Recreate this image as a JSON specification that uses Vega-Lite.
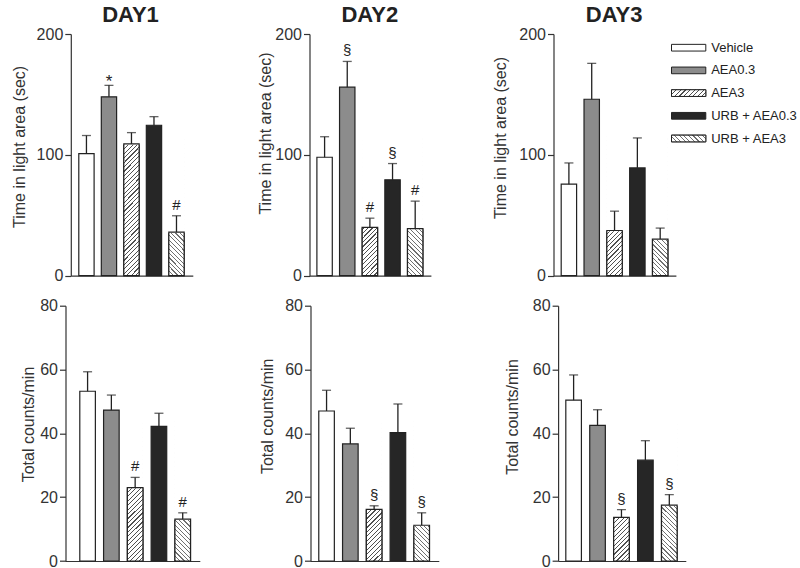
{
"$schema":"https://vega.github.io/schema/vega-lite/v6.json",
"background":"white",
"padding":{"left":10.5,"top":3,"right":0,"bottom":0},
"data":{"values":[
{"m":"t","d":"DAY1","g":"Vehicle","v":101,"hi":116,"s":""},
{"m":"t","d":"DAY1","g":"AEA0.3","v":148,"hi":157.5,"s":"*"},
{"m":"t","d":"DAY1","g":"AEA3","v":109,"hi":118.4,"s":""},
{"m":"t","d":"DAY1","g":"URB + AEA0.3","v":124.5,"hi":131.6,"s":""},
{"m":"t","d":"DAY1","g":"URB + AEA3","v":36,"hi":49.6,"s":"#"},
{"m":"t","d":"DAY2","g":"Vehicle","v":98,"hi":115,"s":""},
{"m":"t","d":"DAY2","g":"AEA0.3","v":156,"hi":177.3,"s":"§"},
{"m":"t","d":"DAY2","g":"AEA3","v":40,"hi":47.6,"s":"#"},
{"m":"t","d":"DAY2","g":"URB + AEA0.3","v":79.3,"hi":92.8,"s":"§"},
{"m":"t","d":"DAY2","g":"URB + AEA3","v":39,"hi":61.7,"s":"#"},
{"m":"t","d":"DAY3","g":"Vehicle","v":75.7,"hi":93.3,"s":""},
{"m":"t","d":"DAY3","g":"AEA0.3","v":146,"hi":175.7,"s":""},
{"m":"t","d":"DAY3","g":"AEA3","v":37.4,"hi":53.4,"s":""},
{"m":"t","d":"DAY3","g":"URB + AEA0.3","v":89.2,"hi":114,"s":""},
{"m":"t","d":"DAY3","g":"URB + AEA3","v":30.3,"hi":39.4,"s":""},
{"m":"c","d":"DAY1","g":"Vehicle","v":53.2,"hi":59.3,"s":""},
{"m":"c","d":"DAY1","g":"AEA0.3","v":47.3,"hi":52,"s":""},
{"m":"c","d":"DAY1","g":"AEA3","v":23,"hi":26.2,"s":"#"},
{"m":"c","d":"DAY1","g":"URB + AEA0.3","v":42.2,"hi":46.3,"s":""},
{"m":"c","d":"DAY1","g":"URB + AEA3","v":13.1,"hi":15.1,"s":"#"},
{"m":"c","d":"DAY2","g":"Vehicle","v":47,"hi":53.5,"s":""},
{"m":"c","d":"DAY2","g":"AEA0.3","v":36.7,"hi":41.6,"s":""},
{"m":"c","d":"DAY2","g":"AEA3","v":16.2,"hi":17.3,"s":"§"},
{"m":"c","d":"DAY2","g":"URB + AEA0.3","v":40.2,"hi":49.2,"s":""},
{"m":"c","d":"DAY2","g":"URB + AEA3","v":11.2,"hi":15.1,"s":"§"},
{"m":"c","d":"DAY3","g":"Vehicle","v":50.4,"hi":58.3,"s":""},
{"m":"c","d":"DAY3","g":"AEA0.3","v":42.5,"hi":47.4,"s":""},
{"m":"c","d":"DAY3","g":"AEA3","v":13.7,"hi":16.1,"s":"§"},
{"m":"c","d":"DAY3","g":"URB + AEA0.3","v":31.6,"hi":37.7,"s":""},
{"m":"c","d":"DAY3","g":"URB + AEA3","v":17.5,"hi":20.8,"s":"§"}
]},
"columns":4,
"align":"each",
"bounds":"flush",
"spacing":{"row":29.7,"column":0},
"concat":[
{"width":244,"height":241.7,"title":{"text":"DAY1","dx":-57},
"transform":[{"filter":"datum.m==='t'&&datum.d==='DAY1'"}],
"encoding":{
"x":{"field":"g","type":"nominal","sort":null,"scale":{"domain":["Vehicle","AEA0.3","AEA3","URB + AEA0.3","URB + AEA3"],"range":[5.3,127.3],"paddingInner":0.32,"paddingOuter":0.37,"align":0.48},"axis":{"domain":true,"ticks":false,"labels":false,"title":null}},
"y":{"field":"v","type":"quantitative","stack":null,"scale":{"domain":[0,200],"nice":false},"axis":{"values":[0,100,200],"title":"Time in light area (sec)","offset":-5.3,"titleX":-46.7,"titleY":112.4,"titleBaseline":"alphabetic"}}},
"layer":[
{"mark":{"type":"bar","stroke":"#222","strokeWidth":1.2},"encoding":{"fill":{"field":"g","type":"nominal","scale":{"domain":["Vehicle","AEA0.3","AEA3","URB + AEA0.3","URB + AEA3"],"range":["#ffffff","#8c8c8c","#ffffff","#262626","#ffffff"]},"legend":null}}},
{"transform":[{"filter":"datum.g==='AEA3'"}],"mark":{"type":"bar","style":"hA"},"encoding":{"y":{"datum":0,"type":"quantitative"},"y2":{"datum":116}}},
{"transform":[{"filter":"datum.g==='URB + AEA3'"}],"mark":{"type":"bar","style":"hB"},"encoding":{"y":{"datum":0,"type":"quantitative"},"y2":{"datum":116}}},
{"transform":[{"filter":"datum.g==='AEA3'||datum.g==='URB + AEA3'"}],"mark":{"type":"bar","fill":"#fff","stroke":"#fff","strokeWidth":1.5},"encoding":{"y2":{"datum":116}}},
{"transform":[{"filter":"datum.g==='AEA3'||datum.g==='URB + AEA3'"}],"mark":{"type":"bar","fillOpacity":0,"stroke":"#222","strokeWidth":1.2}},
{"mark":{"type":"rule","color":"#222","strokeWidth":1.3},"encoding":{"y2":{"field":"hi"}}},
{"mark":{"type":"tick","color":"#222","thickness":1.3,"size":9},"encoding":{"y":{"field":"hi","type":"quantitative"}}},
{"transform":[{"filter":"datum.s!==''&&datum.s!=='*'"}],"mark":{"type":"text","fontSize":15,"dy":-6,"baseline":"alphabetic","color":"#222"},"encoding":{"y":{"field":"hi","type":"quantitative"},"text":{"field":"s"}}},
{"transform":[{"filter":"datum.s==='*'"}],"mark":{"type":"text","fontSize":17,"dy":2,"baseline":"alphabetic","color":"#222"},"encoding":{"y":{"field":"hi","type":"quantitative"},"text":{"field":"s"}}}
]},
{"width":244,"height":241.7,"title":{"text":"DAY2","dx":-61.7},
"transform":[{"filter":"datum.m==='t'&&datum.d==='DAY2'"}],
"encoding":{
"x":{"field":"g","type":"nominal","sort":null,"scale":{"domain":["Vehicle","AEA0.3","AEA3","URB + AEA0.3","URB + AEA3"],"range":[0,121.4],"paddingInner":0.32,"paddingOuter":0.34,"align":0.48},"axis":{"domain":true,"ticks":false,"labels":false,"title":null}},
"y":{"field":"v","type":"quantitative","stack":null,"scale":{"domain":[0,200],"nice":false},"axis":{"values":[0,100,200],"title":"Time in light area (sec)","titleX":-39.5,"titleY":99,"titleBaseline":"alphabetic"}}},
"layer":[
{"mark":{"type":"bar","stroke":"#222","strokeWidth":1.2},"encoding":{"fill":{"field":"g","type":"nominal","scale":{"domain":["Vehicle","AEA0.3","AEA3","URB + AEA0.3","URB + AEA3"],"range":["#ffffff","#8c8c8c","#ffffff","#262626","#ffffff"]},"legend":null}}},
{"transform":[{"filter":"datum.g==='AEA3'"}],"mark":{"type":"bar","style":"hA"},"encoding":{"y":{"datum":0,"type":"quantitative"},"y2":{"datum":116}}},
{"transform":[{"filter":"datum.g==='URB + AEA3'"}],"mark":{"type":"bar","style":"hB"},"encoding":{"y":{"datum":0,"type":"quantitative"},"y2":{"datum":116}}},
{"transform":[{"filter":"datum.g==='AEA3'||datum.g==='URB + AEA3'"}],"mark":{"type":"bar","fill":"#fff","stroke":"#fff","strokeWidth":1.5},"encoding":{"y2":{"datum":116}}},
{"transform":[{"filter":"datum.g==='AEA3'||datum.g==='URB + AEA3'"}],"mark":{"type":"bar","fillOpacity":0,"stroke":"#222","strokeWidth":1.2}},
{"mark":{"type":"rule","color":"#222","strokeWidth":1.3},"encoding":{"y2":{"field":"hi"}}},
{"mark":{"type":"tick","color":"#222","thickness":1.3,"size":9},"encoding":{"y":{"field":"hi","type":"quantitative"}}},
{"transform":[{"filter":"datum.s!==''"}],"mark":{"type":"text","fontSize":15,"dy":-6,"baseline":"alphabetic","color":"#222"},"encoding":{"y":{"field":"hi","type":"quantitative"},"text":{"field":"s"}}}
]},
{"width":117.3,"height":241.7,"title":{"text":"DAY3","dx":2},
"transform":[{"filter":"datum.m==='t'&&datum.d==='DAY3'"}],
"encoding":{
"x":{"field":"g","type":"nominal","sort":null,"scale":{"domain":["Vehicle","AEA0.3","AEA3","URB + AEA0.3","URB + AEA3"],"range":[0,122.4],"paddingInner":0.325,"paddingOuter":0.344,"align":0.49},"axis":{"domain":true,"ticks":false,"labels":false,"title":null}},
"y":{"field":"v","type":"quantitative","stack":null,"scale":{"domain":[0,200],"nice":false},"axis":{"values":[0,100,200],"title":"Time in light area (sec)","titleX":-47.8,"titleY":103.5,"titleBaseline":"alphabetic"}}},
"layer":[
{"mark":{"type":"bar","stroke":"#222","strokeWidth":1.2},"encoding":{"fill":{"field":"g","type":"nominal","scale":{"domain":["Vehicle","AEA0.3","AEA3","URB + AEA0.3","URB + AEA3"],"range":["#ffffff","#8c8c8c","#ffffff","#262626","#ffffff"]},"legend":null}}},
{"transform":[{"filter":"datum.g==='AEA3'"}],"mark":{"type":"bar","style":"hA"},"encoding":{"y":{"datum":0,"type":"quantitative"},"y2":{"datum":116}}},
{"transform":[{"filter":"datum.g==='URB + AEA3'"}],"mark":{"type":"bar","style":"hB"},"encoding":{"y":{"datum":0,"type":"quantitative"},"y2":{"datum":116}}},
{"transform":[{"filter":"datum.g==='AEA3'||datum.g==='URB + AEA3'"}],"mark":{"type":"bar","fill":"#fff","stroke":"#fff","strokeWidth":1.5},"encoding":{"y2":{"datum":116}}},
{"transform":[{"filter":"datum.g==='AEA3'||datum.g==='URB + AEA3'"}],"mark":{"type":"bar","fillOpacity":0,"stroke":"#222","strokeWidth":1.2}},
{"mark":{"type":"rule","color":"#222","strokeWidth":1.3},"encoding":{"y2":{"field":"hi"}}},
{"mark":{"type":"tick","color":"#222","thickness":1.3,"size":9},"encoding":{"y":{"field":"hi","type":"quantitative"}}}
]},
{"width":120,"height":118.2,
"transform":[{"filter":"datum.m==='t'&&datum.d==='DAY1'"}],
"encoding":{
"y":{"field":"g","type":"nominal","sort":null,"scale":{"domain":["Vehicle","AEA0.3","AEA3","URB + AEA0.3","URB + AEA3"],"paddingInner":0.705,"paddingOuter":0.456},"axis":null},
"x":{"datum":0,"type":"quantitative","scale":{"domain":[0,120],"nice":false},"axis":null}},
"layer":[
{"mark":{"type":"rect","stroke":"#222","strokeWidth":1},"encoding":{"x2":{"datum":34.3},"fill":{"field":"g","type":"nominal","scale":{"domain":["Vehicle","AEA0.3","AEA3","URB + AEA0.3","URB + AEA3"],"range":["#ffffff","#8c8c8c","#ffffff","#262626","#ffffff"]},"legend":null}}},
{"transform":[{"filter":"datum.g==='AEA3'"}],"mark":{"type":"rect","style":"lA","stroke":"#222","strokeWidth":1},"encoding":{"x2":{"datum":34.3}}},
{"transform":[{"filter":"datum.g==='URB + AEA3'"}],"mark":{"type":"rect","style":"lB","stroke":"#222","strokeWidth":1},"encoding":{"x2":{"datum":34.3}}},
{"mark":{"type":"text","align":"left","baseline":"middle","fontSize":13,"color":"#222"},"encoding":{"x":{"datum":39.7,"type":"quantitative"},"text":{"field":"g"}}}
]},
{"width":244,"height":255.3,
"transform":[{"filter":"datum.m==='c'&&datum.d==='DAY1'"}],
"encoding":{
"x":{"field":"g","type":"nominal","sort":null,"scale":{"domain":["Vehicle","AEA0.3","AEA3","URB + AEA0.3","URB + AEA3"],"range":[0,134.3],"paddingInner":0.345,"paddingOuter":0.496,"align":0.606},"axis":{"domain":true,"ticks":false,"labels":false,"title":null}},
"y":{"field":"v","type":"quantitative","stack":null,"scale":{"domain":[0,80],"nice":false},"axis":{"values":[0,20,40,60,80],"title":"Total counts/min","titleX":-32.5,"titleY":118.3,"titleBaseline":"alphabetic"}}},
"layer":[
{"mark":{"type":"bar","stroke":"#222","strokeWidth":1.2},"encoding":{"fill":{"field":"g","type":"nominal","scale":{"domain":["Vehicle","AEA0.3","AEA3","URB + AEA0.3","URB + AEA3"],"range":["#ffffff","#8c8c8c","#ffffff","#262626","#ffffff"]},"legend":null}}},
{"transform":[{"filter":"datum.g==='AEA3'"}],"mark":{"type":"bar","style":"hA"},"encoding":{"y":{"datum":0,"type":"quantitative"},"y2":{"datum":44}}},
{"transform":[{"filter":"datum.g==='URB + AEA3'"}],"mark":{"type":"bar","style":"hB"},"encoding":{"y":{"datum":0,"type":"quantitative"},"y2":{"datum":44}}},
{"transform":[{"filter":"datum.g==='AEA3'||datum.g==='URB + AEA3'"}],"mark":{"type":"bar","fill":"#fff","stroke":"#fff","strokeWidth":1.5},"encoding":{"y2":{"datum":44}}},
{"transform":[{"filter":"datum.g==='AEA3'||datum.g==='URB + AEA3'"}],"mark":{"type":"bar","fillOpacity":0,"stroke":"#222","strokeWidth":1.2}},
{"mark":{"type":"rule","color":"#222","strokeWidth":1.3},"encoding":{"y2":{"field":"hi"}}},
{"mark":{"type":"tick","color":"#222","thickness":1.3,"size":9},"encoding":{"y":{"field":"hi","type":"quantitative"}}},
{"transform":[{"filter":"datum.s!==''"}],"mark":{"type":"text","fontSize":15,"dy":-6,"baseline":"alphabetic","color":"#222"},"encoding":{"y":{"field":"hi","type":"quantitative"},"text":{"field":"s"}}}
]},
{"width":244,"height":255.3,
"transform":[{"filter":"datum.m==='c'&&datum.d==='DAY2'"}],
"encoding":{
"x":{"field":"g","type":"nominal","sort":null,"scale":{"domain":["Vehicle","AEA0.3","AEA3","URB + AEA0.3","URB + AEA3"],"range":[1,129.3],"paddingInner":0.345,"paddingOuter":0.37,"align":0.47},"axis":{"domain":true,"ticks":false,"labels":false,"title":null}},
"y":{"field":"v","type":"quantitative","stack":null,"scale":{"domain":[0,80],"nice":false},"axis":{"values":[0,20,40,60,80],"title":"Total counts/min","offset":-1,"titleX":-38.2,"titleY":110.1,"titleBaseline":"alphabetic"}}},
"layer":[
{"mark":{"type":"bar","stroke":"#222","strokeWidth":1.2},"encoding":{"fill":{"field":"g","type":"nominal","scale":{"domain":["Vehicle","AEA0.3","AEA3","URB + AEA0.3","URB + AEA3"],"range":["#ffffff","#8c8c8c","#ffffff","#262626","#ffffff"]},"legend":null}}},
{"transform":[{"filter":"datum.g==='AEA3'"}],"mark":{"type":"bar","style":"hA"},"encoding":{"y":{"datum":0,"type":"quantitative"},"y2":{"datum":44}}},
{"transform":[{"filter":"datum.g==='URB + AEA3'"}],"mark":{"type":"bar","style":"hB"},"encoding":{"y":{"datum":0,"type":"quantitative"},"y2":{"datum":44}}},
{"transform":[{"filter":"datum.g==='AEA3'||datum.g==='URB + AEA3'"}],"mark":{"type":"bar","fill":"#fff","stroke":"#fff","strokeWidth":1.5},"encoding":{"y2":{"datum":44}}},
{"transform":[{"filter":"datum.g==='AEA3'||datum.g==='URB + AEA3'"}],"mark":{"type":"bar","fillOpacity":0,"stroke":"#222","strokeWidth":1.2}},
{"mark":{"type":"rule","color":"#222","strokeWidth":1.3},"encoding":{"y2":{"field":"hi"}}},
{"mark":{"type":"tick","color":"#222","thickness":1.3,"size":9},"encoding":{"y":{"field":"hi","type":"quantitative"}}},
{"transform":[{"filter":"datum.s!==''"}],"mark":{"type":"text","fontSize":15,"dy":-6,"baseline":"alphabetic","color":"#222"},"encoding":{"y":{"field":"hi","type":"quantitative"},"text":{"field":"s"}}}
]},
{"width":117.3,"height":255.3,
"transform":[{"filter":"datum.m==='c'&&datum.d==='DAY3'"}],
"encoding":{
"x":{"field":"g","type":"nominal","sort":null,"scale":{"domain":["Vehicle","AEA0.3","AEA3","URB + AEA0.3","URB + AEA3"],"range":[4.6,132.3],"paddingInner":0.348,"paddingOuter":0.343,"align":0.47},"axis":{"domain":true,"ticks":false,"labels":false,"title":null}},
"y":{"field":"v","type":"quantitative","stack":null,"scale":{"domain":[0,80],"nice":false},"axis":{"values":[0,20,40,60,80],"title":"Total counts/min","offset":-4.6,"titleX":-40.3,"titleY":110.8,"titleBaseline":"alphabetic"}}},
"layer":[
{"mark":{"type":"bar","stroke":"#222","strokeWidth":1.2},"encoding":{"fill":{"field":"g","type":"nominal","scale":{"domain":["Vehicle","AEA0.3","AEA3","URB + AEA0.3","URB + AEA3"],"range":["#ffffff","#8c8c8c","#ffffff","#262626","#ffffff"]},"legend":null}}},
{"transform":[{"filter":"datum.g==='AEA3'"}],"mark":{"type":"bar","style":"hA"},"encoding":{"y":{"datum":0,"type":"quantitative"},"y2":{"datum":44}}},
{"transform":[{"filter":"datum.g==='URB + AEA3'"}],"mark":{"type":"bar","style":"hB"},"encoding":{"y":{"datum":0,"type":"quantitative"},"y2":{"datum":44}}},
{"transform":[{"filter":"datum.g==='AEA3'||datum.g==='URB + AEA3'"}],"mark":{"type":"bar","fill":"#fff","stroke":"#fff","strokeWidth":1.5},"encoding":{"y2":{"datum":44}}},
{"transform":[{"filter":"datum.g==='AEA3'||datum.g==='URB + AEA3'"}],"mark":{"type":"bar","fillOpacity":0,"stroke":"#222","strokeWidth":1.2}},
{"mark":{"type":"rule","color":"#222","strokeWidth":1.3},"encoding":{"y2":{"field":"hi"}}},
{"mark":{"type":"tick","color":"#222","thickness":1.3,"size":9},"encoding":{"y":{"field":"hi","type":"quantitative"}}},
{"transform":[{"filter":"datum.s!==''"}],"mark":{"type":"text","fontSize":15,"dy":-6,"baseline":"alphabetic","color":"#222"},"encoding":{"y":{"field":"hi","type":"quantitative"},"text":{"field":"s"}}}
]}
],
"config":{
"view":{"stroke":null},
"font":"Liberation Sans",
"axis":{"labelFont":"Liberation Sans","labelFontSize":16,"labelColor":"#333","titleFont":"Liberation Sans","titleFontSize":16,"titleFontWeight":"normal","titleColor":"#333","domainColor":"#333","tickColor":"#333","domainWidth":1.2,"tickWidth":1.2,"tickSize":6,"labelPadding":2,"grid":false},
"title":{"font":"Liberation Sans","fontSize":22,"fontWeight":"bold","color":"#222","frame":"group","anchor":"middle","dy":4.7},
"style":{
"hA":{"color":{"gradient":"linear","x1":0,"y1":0,"x2":0.1213,"y2":1.0972,"stops":[
{"offset":0,"color":"#fff"},{"offset":0,"color":"#505050"},{"offset":0.0075,"color":"#505050"},{"offset":0.0075,"color":"#fff"},
{"offset":0.0286,"color":"#fff"},{"offset":0.0286,"color":"#505050"},{"offset":0.0361,"color":"#505050"},{"offset":0.0361,"color":"#fff"},
{"offset":0.0571,"color":"#fff"},{"offset":0.0571,"color":"#505050"},{"offset":0.0646,"color":"#505050"},{"offset":0.0646,"color":"#fff"},
{"offset":0.0857,"color":"#fff"},{"offset":0.0857,"color":"#505050"},{"offset":0.0932,"color":"#505050"},{"offset":0.0932,"color":"#fff"},
{"offset":0.1143,"color":"#fff"},{"offset":0.1143,"color":"#505050"},{"offset":0.1218,"color":"#505050"},{"offset":0.1218,"color":"#fff"},
{"offset":0.1429,"color":"#fff"},{"offset":0.1429,"color":"#505050"},{"offset":0.1504,"color":"#505050"},{"offset":0.1504,"color":"#fff"},
{"offset":0.1714,"color":"#fff"},{"offset":0.1714,"color":"#505050"},{"offset":0.1789,"color":"#505050"},{"offset":0.1789,"color":"#fff"},
{"offset":0.2,"color":"#fff"},{"offset":0.2,"color":"#505050"},{"offset":0.2075,"color":"#505050"},{"offset":0.2075,"color":"#fff"},
{"offset":0.2286,"color":"#fff"},{"offset":0.2286,"color":"#505050"},{"offset":0.2361,"color":"#505050"},{"offset":0.2361,"color":"#fff"},
{"offset":0.2571,"color":"#fff"},{"offset":0.2571,"color":"#505050"},{"offset":0.2646,"color":"#505050"},{"offset":0.2646,"color":"#fff"},
{"offset":0.2857,"color":"#fff"},{"offset":0.2857,"color":"#505050"},{"offset":0.2932,"color":"#505050"},{"offset":0.2932,"color":"#fff"},
{"offset":0.3143,"color":"#fff"},{"offset":0.3143,"color":"#505050"},{"offset":0.3218,"color":"#505050"},{"offset":0.3218,"color":"#fff"},
{"offset":0.3429,"color":"#fff"},{"offset":0.3429,"color":"#505050"},{"offset":0.3504,"color":"#505050"},{"offset":0.3504,"color":"#fff"},
{"offset":0.3714,"color":"#fff"},{"offset":0.3714,"color":"#505050"},{"offset":0.3789,"color":"#505050"},{"offset":0.3789,"color":"#fff"},
{"offset":0.4,"color":"#fff"},{"offset":0.4,"color":"#505050"},{"offset":0.4075,"color":"#505050"},{"offset":0.4075,"color":"#fff"},
{"offset":0.4286,"color":"#fff"},{"offset":0.4286,"color":"#505050"},{"offset":0.4361,"color":"#505050"},{"offset":0.4361,"color":"#fff"},
{"offset":0.4571,"color":"#fff"},{"offset":0.4571,"color":"#505050"},{"offset":0.4646,"color":"#505050"},{"offset":0.4646,"color":"#fff"},
{"offset":0.4857,"color":"#fff"},{"offset":0.4857,"color":"#505050"},{"offset":0.4932,"color":"#505050"},{"offset":0.4932,"color":"#fff"},
{"offset":0.5143,"color":"#fff"},{"offset":0.5143,"color":"#505050"},{"offset":0.5218,"color":"#505050"},{"offset":0.5218,"color":"#fff"},
{"offset":0.5429,"color":"#fff"},{"offset":0.5429,"color":"#505050"},{"offset":0.5504,"color":"#505050"},{"offset":0.5504,"color":"#fff"},
{"offset":0.5714,"color":"#fff"},{"offset":0.5714,"color":"#505050"},{"offset":0.5789,"color":"#505050"},{"offset":0.5789,"color":"#fff"},
{"offset":0.6,"color":"#fff"},{"offset":0.6,"color":"#505050"},{"offset":0.6075,"color":"#505050"},{"offset":0.6075,"color":"#fff"},
{"offset":0.6286,"color":"#fff"},{"offset":0.6286,"color":"#505050"},{"offset":0.6361,"color":"#505050"},{"offset":0.6361,"color":"#fff"},
{"offset":0.6571,"color":"#fff"},{"offset":0.6571,"color":"#505050"},{"offset":0.6646,"color":"#505050"},{"offset":0.6646,"color":"#fff"},
{"offset":0.6857,"color":"#fff"},{"offset":0.6857,"color":"#505050"},{"offset":0.6932,"color":"#505050"},{"offset":0.6932,"color":"#fff"},
{"offset":0.7143,"color":"#fff"},{"offset":0.7143,"color":"#505050"},{"offset":0.7218,"color":"#505050"},{"offset":0.7218,"color":"#fff"},
{"offset":0.7429,"color":"#fff"},{"offset":0.7429,"color":"#505050"},{"offset":0.7504,"color":"#505050"},{"offset":0.7504,"color":"#fff"},
{"offset":0.7714,"color":"#fff"},{"offset":0.7714,"color":"#505050"},{"offset":0.7789,"color":"#505050"},{"offset":0.7789,"color":"#fff"},
{"offset":0.8,"color":"#fff"},{"offset":0.8,"color":"#505050"},{"offset":0.8075,"color":"#505050"},{"offset":0.8075,"color":"#fff"},
{"offset":0.8286,"color":"#fff"},{"offset":0.8286,"color":"#505050"},{"offset":0.8361,"color":"#505050"},{"offset":0.8361,"color":"#fff"},
{"offset":0.8571,"color":"#fff"},{"offset":0.8571,"color":"#505050"},{"offset":0.8646,"color":"#505050"},{"offset":0.8646,"color":"#fff"},
{"offset":0.8857,"color":"#fff"},{"offset":0.8857,"color":"#505050"},{"offset":0.8932,"color":"#505050"},{"offset":0.8932,"color":"#fff"},
{"offset":0.9143,"color":"#fff"},{"offset":0.9143,"color":"#505050"},{"offset":0.9218,"color":"#505050"},{"offset":0.9218,"color":"#fff"},
{"offset":0.9429,"color":"#fff"},{"offset":0.9429,"color":"#505050"},{"offset":0.9504,"color":"#505050"},{"offset":0.9504,"color":"#fff"},
{"offset":0.9714,"color":"#fff"},{"offset":0.9714,"color":"#505050"},{"offset":0.9789,"color":"#505050"},{"offset":0.9789,"color":"#fff"},
{"offset":1,"color":"#fff"}]}},
"hB":{"color":{"gradient":"linear","x1":0,"y1":1,"x2":0.1213,"y2":-0.0972,"stops":[
{"offset":0,"color":"#fff"},{"offset":0,"color":"#707070"},{"offset":0.0075,"color":"#707070"},{"offset":0.0075,"color":"#fff"},
{"offset":0.0286,"color":"#fff"},{"offset":0.0286,"color":"#707070"},{"offset":0.0361,"color":"#707070"},{"offset":0.0361,"color":"#fff"},
{"offset":0.0571,"color":"#fff"},{"offset":0.0571,"color":"#707070"},{"offset":0.0646,"color":"#707070"},{"offset":0.0646,"color":"#fff"},
{"offset":0.0857,"color":"#fff"},{"offset":0.0857,"color":"#707070"},{"offset":0.0932,"color":"#707070"},{"offset":0.0932,"color":"#fff"},
{"offset":0.1143,"color":"#fff"},{"offset":0.1143,"color":"#707070"},{"offset":0.1218,"color":"#707070"},{"offset":0.1218,"color":"#fff"},
{"offset":0.1429,"color":"#fff"},{"offset":0.1429,"color":"#707070"},{"offset":0.1504,"color":"#707070"},{"offset":0.1504,"color":"#fff"},
{"offset":0.1714,"color":"#fff"},{"offset":0.1714,"color":"#707070"},{"offset":0.1789,"color":"#707070"},{"offset":0.1789,"color":"#fff"},
{"offset":0.2,"color":"#fff"},{"offset":0.2,"color":"#707070"},{"offset":0.2075,"color":"#707070"},{"offset":0.2075,"color":"#fff"},
{"offset":0.2286,"color":"#fff"},{"offset":0.2286,"color":"#707070"},{"offset":0.2361,"color":"#707070"},{"offset":0.2361,"color":"#fff"},
{"offset":0.2571,"color":"#fff"},{"offset":0.2571,"color":"#707070"},{"offset":0.2646,"color":"#707070"},{"offset":0.2646,"color":"#fff"},
{"offset":0.2857,"color":"#fff"},{"offset":0.2857,"color":"#707070"},{"offset":0.2932,"color":"#707070"},{"offset":0.2932,"color":"#fff"},
{"offset":0.3143,"color":"#fff"},{"offset":0.3143,"color":"#707070"},{"offset":0.3218,"color":"#707070"},{"offset":0.3218,"color":"#fff"},
{"offset":0.3429,"color":"#fff"},{"offset":0.3429,"color":"#707070"},{"offset":0.3504,"color":"#707070"},{"offset":0.3504,"color":"#fff"},
{"offset":0.3714,"color":"#fff"},{"offset":0.3714,"color":"#707070"},{"offset":0.3789,"color":"#707070"},{"offset":0.3789,"color":"#fff"},
{"offset":0.4,"color":"#fff"},{"offset":0.4,"color":"#707070"},{"offset":0.4075,"color":"#707070"},{"offset":0.4075,"color":"#fff"},
{"offset":0.4286,"color":"#fff"},{"offset":0.4286,"color":"#707070"},{"offset":0.4361,"color":"#707070"},{"offset":0.4361,"color":"#fff"},
{"offset":0.4571,"color":"#fff"},{"offset":0.4571,"color":"#707070"},{"offset":0.4646,"color":"#707070"},{"offset":0.4646,"color":"#fff"},
{"offset":0.4857,"color":"#fff"},{"offset":0.4857,"color":"#707070"},{"offset":0.4932,"color":"#707070"},{"offset":0.4932,"color":"#fff"},
{"offset":0.5143,"color":"#fff"},{"offset":0.5143,"color":"#707070"},{"offset":0.5218,"color":"#707070"},{"offset":0.5218,"color":"#fff"},
{"offset":0.5429,"color":"#fff"},{"offset":0.5429,"color":"#707070"},{"offset":0.5504,"color":"#707070"},{"offset":0.5504,"color":"#fff"},
{"offset":0.5714,"color":"#fff"},{"offset":0.5714,"color":"#707070"},{"offset":0.5789,"color":"#707070"},{"offset":0.5789,"color":"#fff"},
{"offset":0.6,"color":"#fff"},{"offset":0.6,"color":"#707070"},{"offset":0.6075,"color":"#707070"},{"offset":0.6075,"color":"#fff"},
{"offset":0.6286,"color":"#fff"},{"offset":0.6286,"color":"#707070"},{"offset":0.6361,"color":"#707070"},{"offset":0.6361,"color":"#fff"},
{"offset":0.6571,"color":"#fff"},{"offset":0.6571,"color":"#707070"},{"offset":0.6646,"color":"#707070"},{"offset":0.6646,"color":"#fff"},
{"offset":0.6857,"color":"#fff"},{"offset":0.6857,"color":"#707070"},{"offset":0.6932,"color":"#707070"},{"offset":0.6932,"color":"#fff"},
{"offset":0.7143,"color":"#fff"},{"offset":0.7143,"color":"#707070"},{"offset":0.7218,"color":"#707070"},{"offset":0.7218,"color":"#fff"},
{"offset":0.7429,"color":"#fff"},{"offset":0.7429,"color":"#707070"},{"offset":0.7504,"color":"#707070"},{"offset":0.7504,"color":"#fff"},
{"offset":0.7714,"color":"#fff"},{"offset":0.7714,"color":"#707070"},{"offset":0.7789,"color":"#707070"},{"offset":0.7789,"color":"#fff"},
{"offset":0.8,"color":"#fff"},{"offset":0.8,"color":"#707070"},{"offset":0.8075,"color":"#707070"},{"offset":0.8075,"color":"#fff"},
{"offset":0.8286,"color":"#fff"},{"offset":0.8286,"color":"#707070"},{"offset":0.8361,"color":"#707070"},{"offset":0.8361,"color":"#fff"},
{"offset":0.8571,"color":"#fff"},{"offset":0.8571,"color":"#707070"},{"offset":0.8646,"color":"#707070"},{"offset":0.8646,"color":"#fff"},
{"offset":0.8857,"color":"#fff"},{"offset":0.8857,"color":"#707070"},{"offset":0.8932,"color":"#707070"},{"offset":0.8932,"color":"#fff"},
{"offset":0.9143,"color":"#fff"},{"offset":0.9143,"color":"#707070"},{"offset":0.9218,"color":"#707070"},{"offset":0.9218,"color":"#fff"},
{"offset":0.9429,"color":"#fff"},{"offset":0.9429,"color":"#707070"},{"offset":0.9504,"color":"#707070"},{"offset":0.9504,"color":"#fff"},
{"offset":0.9714,"color":"#fff"},{"offset":0.9714,"color":"#707070"},{"offset":0.9789,"color":"#707070"},{"offset":0.9789,"color":"#fff"},
{"offset":1,"color":"#fff"}]}},
"lA":{"color":{"gradient":"linear","x1":0,"y1":0,"x2":1.1514,"y2":0.2249,"stops":[
{"offset":0,"color":"#fff"},{"offset":0,"color":"#505050"},{"offset":0.0268,"color":"#505050"},{"offset":0.0268,"color":"#fff"},
{"offset":0.1111,"color":"#fff"},{"offset":0.1111,"color":"#505050"},{"offset":0.1379,"color":"#505050"},{"offset":0.1379,"color":"#fff"},
{"offset":0.2222,"color":"#fff"},{"offset":0.2222,"color":"#505050"},{"offset":0.249,"color":"#505050"},{"offset":0.249,"color":"#fff"},
{"offset":0.3333,"color":"#fff"},{"offset":0.3333,"color":"#505050"},{"offset":0.3601,"color":"#505050"},{"offset":0.3601,"color":"#fff"},
{"offset":0.4444,"color":"#fff"},{"offset":0.4444,"color":"#505050"},{"offset":0.4712,"color":"#505050"},{"offset":0.4712,"color":"#fff"},
{"offset":0.5556,"color":"#fff"},{"offset":0.5556,"color":"#505050"},{"offset":0.5824,"color":"#505050"},{"offset":0.5824,"color":"#fff"},
{"offset":0.6667,"color":"#fff"},{"offset":0.6667,"color":"#505050"},{"offset":0.6935,"color":"#505050"},{"offset":0.6935,"color":"#fff"},
{"offset":0.7778,"color":"#fff"},{"offset":0.7778,"color":"#505050"},{"offset":0.8046,"color":"#505050"},{"offset":0.8046,"color":"#fff"},
{"offset":0.8889,"color":"#fff"},{"offset":0.8889,"color":"#505050"},{"offset":0.9157,"color":"#505050"},{"offset":0.9157,"color":"#fff"},
{"offset":1,"color":"#fff"}]}},
"lB":{"color":{"gradient":"linear","x1":0,"y1":1,"x2":1.1514,"y2":0.7751,"stops":[
{"offset":0,"color":"#fff"},{"offset":0,"color":"#707070"},{"offset":0.0268,"color":"#707070"},{"offset":0.0268,"color":"#fff"},
{"offset":0.1111,"color":"#fff"},{"offset":0.1111,"color":"#707070"},{"offset":0.1379,"color":"#707070"},{"offset":0.1379,"color":"#fff"},
{"offset":0.2222,"color":"#fff"},{"offset":0.2222,"color":"#707070"},{"offset":0.249,"color":"#707070"},{"offset":0.249,"color":"#fff"},
{"offset":0.3333,"color":"#fff"},{"offset":0.3333,"color":"#707070"},{"offset":0.3601,"color":"#707070"},{"offset":0.3601,"color":"#fff"},
{"offset":0.4444,"color":"#fff"},{"offset":0.4444,"color":"#707070"},{"offset":0.4712,"color":"#707070"},{"offset":0.4712,"color":"#fff"},
{"offset":0.5556,"color":"#fff"},{"offset":0.5556,"color":"#707070"},{"offset":0.5824,"color":"#707070"},{"offset":0.5824,"color":"#fff"},
{"offset":0.6667,"color":"#fff"},{"offset":0.6667,"color":"#707070"},{"offset":0.6935,"color":"#707070"},{"offset":0.6935,"color":"#fff"},
{"offset":0.7778,"color":"#fff"},{"offset":0.7778,"color":"#707070"},{"offset":0.8046,"color":"#707070"},{"offset":0.8046,"color":"#fff"},
{"offset":0.8889,"color":"#fff"},{"offset":0.8889,"color":"#707070"},{"offset":0.9157,"color":"#707070"},{"offset":0.9157,"color":"#fff"},
{"offset":1,"color":"#fff"}]}}
}
}
}
